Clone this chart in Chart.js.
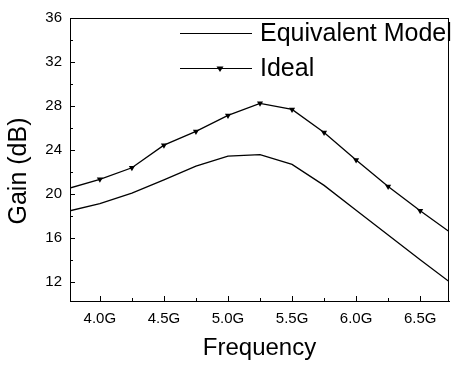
<!DOCTYPE html>
<html>
<head>
<meta charset="utf-8">
<script src="https://cdn.jsdelivr.net/npm/chart.js@4/dist/chart.umd.min.js"></script>
<style>
  html, body { margin: 0; padding: 0; background: #fff; }
  canvas { display: block; }
</style>
</head>
<body>
<canvas id="chart" width="453" height="367"></canvas>
<script>
const frequencies = [3.75, 4.0, 4.25, 4.5, 4.75, 5.0, 5.25, 5.5, 5.75, 6.0, 6.25, 6.5, 6.75];
const equivalentModel = [18.45, 19.15, 20.1, 21.3, 22.55, 23.45, 23.6, 22.7, 20.8, 18.55, 16.3, 14.05, 11.85];
const ideal = [20.5, 21.35, 22.4, 24.45, 25.7, 27.15, 28.25, 27.7, 25.6, 23.1, 20.7, 18.5, 16.4];
const xTicks = [4.0, 4.5, 5.0, 5.5, 6.0, 6.5];
const xMinorTicks = [4.25, 4.75, 5.25, 5.75, 6.25];
const yTicks = [12, 16, 20, 24, 28, 32, 36];
const yMinorTicks = [14, 18, 22, 26, 30, 34];

const FONT = "'Liberation Sans', Arial, sans-serif";

const toPoints = (ys) => frequencies.map((f, i) => ({ x: f, y: ys[i] }));

// box on top/right, ticks pointing inward, y title, legend inside the plot
const framePlugin = {
  id: 'frame',
  afterDraw(chart) {
    const { ctx, chartArea: a, scales } = chart;
    const x = scales.x, y = scales.y;
    ctx.save();
    ctx.strokeStyle = '#000';
    ctx.lineWidth = 1;
    ctx.beginPath();
    ctx.moveTo(a.left, a.top + 0.5);
    ctx.lineTo(a.right, a.top + 0.5);
    ctx.moveTo(a.right - 0.5, a.top);
    ctx.lineTo(a.right - 0.5, a.bottom);
    xTicks.forEach(v => {
      const px = Math.round(x.getPixelForValue(v)) + 0.5;
      ctx.moveTo(px, a.bottom); ctx.lineTo(px, a.bottom - 5);
    });
    xMinorTicks.forEach(v => {
      const px = Math.round(x.getPixelForValue(v)) + 0.5;
      ctx.moveTo(px, a.bottom); ctx.lineTo(px, a.bottom - 3);
    });
    yTicks.forEach(v => {
      const py = Math.round(y.getPixelForValue(v)) + 0.5;
      ctx.moveTo(a.left, py); ctx.lineTo(a.left + 5, py);
    });
    yMinorTicks.forEach(v => {
      const py = Math.round(y.getPixelForValue(v)) + 0.5;
      ctx.moveTo(a.left, py); ctx.lineTo(a.left + 3, py);
    });
    ctx.stroke();

    // y axis title
    ctx.fillStyle = '#000';
    ctx.font = '25px ' + FONT;
    ctx.textAlign = 'center';
    ctx.textBaseline = 'middle';
    ctx.save();
    ctx.translate(19, 171);
    ctx.rotate(-Math.PI / 2);
    ctx.fillText('Gain (dB)', 0, 0);
    ctx.restore();

    // legend
    const rows = [33, 68];
    chart.data.datasets.forEach((ds, i) => {
      const ly = rows[i] + 0.5;
      ctx.strokeStyle = ds.borderColor;
      ctx.lineWidth = 1;
      ctx.beginPath();
      ctx.moveTo(180, ly);
      ctx.lineTo(252, ly);
      ctx.stroke();
      if (ds.pointRadius > 0) {
        const r = ds.pointRadius;
        ctx.beginPath();
        ctx.moveTo(220 - r, ly - r * 0.6);
        ctx.lineTo(220 + r, ly - r * 0.6);
        ctx.lineTo(220, ly + r);
        ctx.closePath();
        ctx.fillStyle = ds.pointBackgroundColor;
        ctx.fill();
      }
      ctx.fillStyle = '#000';
      ctx.font = '25px ' + FONT;
      ctx.textAlign = 'left';
      ctx.textBaseline = 'middle';
      ctx.fillText(ds.label, 260, rows[i] + 1);
    });
    ctx.restore();
  }
};

new Chart(document.getElementById('chart'), {
  type: 'line',
  data: {
    datasets: [
      {
        label: 'Equivalent Model',
        data: toPoints(equivalentModel),
        borderColor: '#000',
        borderWidth: 1.3,
        pointRadius: 0,
        tension: 0
      },
      {
        label: 'Ideal',
        data: toPoints(ideal),
        borderColor: '#000',
        borderWidth: 1.3,
        pointStyle: 'triangle',
        rotation: 180,
        pointRadius: 3.5,
        pointBackgroundColor: '#000',
        pointBorderColor: '#000',
        pointBorderWidth: 0,
        tension: 0
      }
    ]
  },
  options: {
    responsive: false,
    animation: false,
    devicePixelRatio: 1,
    layout: { padding: { top: 18, right: 2, left: 0, bottom: 0 } },
    plugins: {
      legend: { display: false },
      tooltip: { enabled: false }
    },
    scales: {
      x: {
        type: 'linear',
        min: 3.767,
        max: 6.725,
        afterBuildTicks: (scale) => { scale.ticks = xTicks.map(v => ({ value: v })); },
        afterFit: (scale) => { scale.height = 66; },
        grid: { display: false, drawTicks: false },
        border: { display: true, color: '#000', width: 1 },
        ticks: {
          color: '#000',
          font: { family: FONT, size: 15 },
          padding: 9,
          maxRotation: 0,
          callback: (v) => v.toFixed(1) + 'G'
        },
        title: {
          display: true,
          text: 'Frequency',
          color: '#000',
          font: { family: FONT, size: 24 },
          padding: { top: 0, bottom: 4 }
        }
      },
      y: {
        type: 'linear',
        min: 10.3,
        max: 36,
        afterBuildTicks: (scale) => { scale.ticks = yTicks.map(v => ({ value: v })); },
        afterFit: (scale) => { scale.width = 70; },
        grid: { display: false, drawTicks: false },
        border: { display: true, color: '#000', width: 1 },
        ticks: {
          color: '#000',
          font: { family: FONT, size: 15 },
          padding: 8
        }
      }
    }
  },
  plugins: [framePlugin]
});
</script>
</body>
</html>
